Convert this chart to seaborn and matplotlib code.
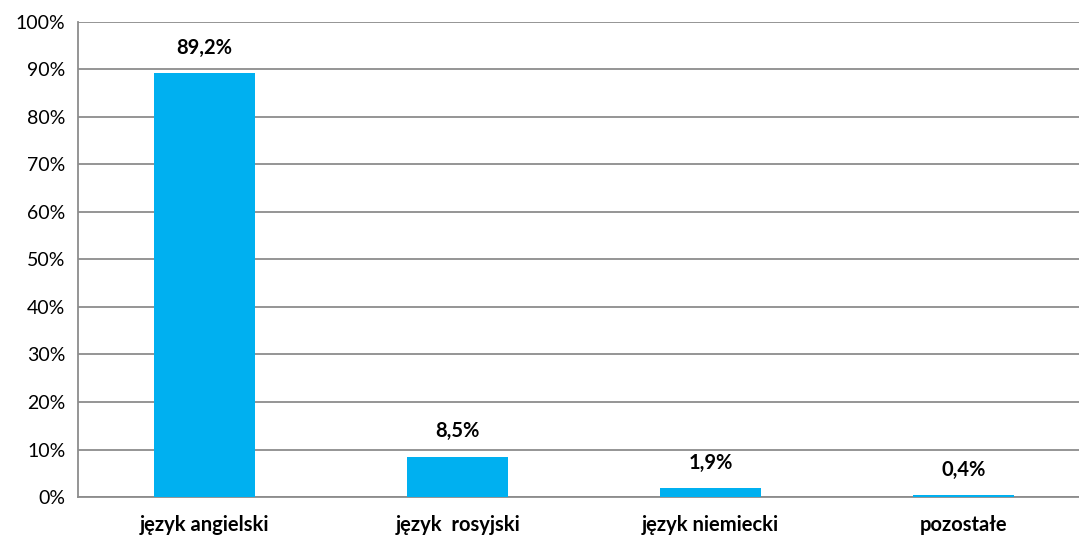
import pandas as pd
import matplotlib.pyplot as plt
import seaborn as sns

categories = ["język angielski", "język  rosyjski", "język niemiecki", "pozostałe"]
values = [89.2, 8.5, 1.9, 0.4]
labels = ["89,2%", "8,5%", "1,9%", "0,4%"]

df = pd.DataFrame({"kategoria": categories, "procent": values})

sns.set_style("white")
plt.rcParams['font.family'] = ['Lato', 'DejaVu Sans']

fig = plt.figure(figsize=(10.79, 5.35), dpi=100)
ax = fig.add_axes([0.0723, 0.071, 0.9277, 0.888])

sns.barplot(data=df, x="kategoria", y="procent", color="#00B0F0", saturation=1,
            width=0.40, linewidth=0, ax=ax, zorder=3)

ax.set_ylim(0, 100)
ax.set_xlim(-0.5, 3.455)
ax.set_yticks(range(0, 101, 10))
ax.set_yticklabels([f"{v}%" for v in range(0, 101, 10)], fontsize=14, color="black")
ax.yaxis.grid(True, color="#8c8c8c", linewidth=1.3, zorder=0)
ax.set_axisbelow(True)

# ticks between categories on x axis
ax.set_xticks([i + 0.5 for i in range(-1, 3)], minor=True)
ax.tick_params(axis="x", which="minor", length=5, width=1.3, color="#8c8c8c", direction="out")
ax.tick_params(axis="x", which="major", length=0, pad=13)
ax.tick_params(axis="y", length=5, width=1.3, color="#8c8c8c", direction="out", pad=4)
for t in ax.get_xticklabels():
    t.set_fontweight("bold")
    t.set_fontsize(14.5)
    t.set_color("black")

ax.set_xlabel("")
ax.set_ylabel("")
for s in ["top", "right"]:
    ax.spines[s].set_visible(False)
for s in ["left", "bottom"]:
    ax.spines[s].set_color("#8c8c8c")
    ax.spines[s].set_linewidth(1.3)

for i, (v, lab) in enumerate(zip(values, labels)):
    ax.annotate(lab, (i, v), xytext=(0, 11), textcoords="offset points",
                ha="center", va="bottom", fontsize=14.5, fontweight="bold", color="black")

fig.savefig("out.png", dpi=100)
